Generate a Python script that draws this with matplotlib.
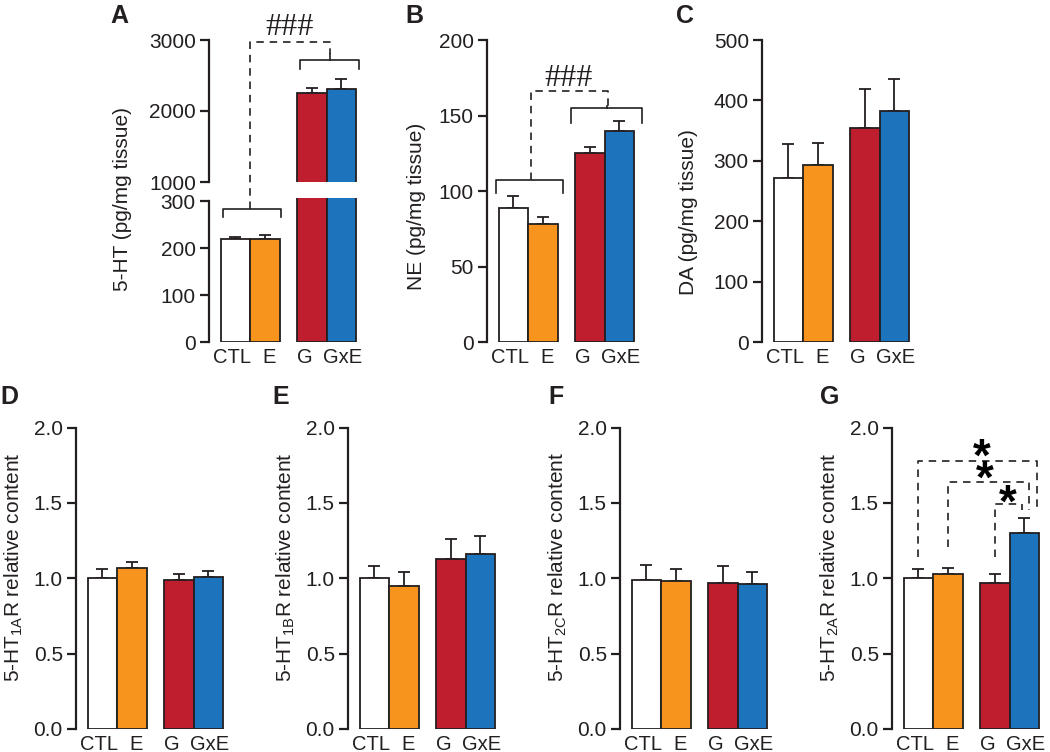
import numpy as np
import matplotlib
matplotlib.use('Agg')
import matplotlib.pyplot as plt
from matplotlib.ticker import FormatStrFormatter

plt.rcParams['font.family'] = ['Liberation Sans', 'DejaVu Sans']
plt.rcParams['mathtext.fontset'] = 'custom'
plt.rcParams['mathtext.rm'] = 'Liberation Sans'
plt.rcParams['mathtext.it'] = 'Liberation Sans:italic'
plt.rcParams['mathtext.bf'] = 'Liberation Sans:bold'

# groups and colours
groups = ['CTL', 'E', 'G', 'GxE']
colors = ['white', '#F7941D', '#BE1E2D', '#1C75BC']
xpos = [0, 1, 2.6, 3.6]
label_shift = [-0.12, 0.13, -0.23, 0.05]
INK = '#231F20'

# monoamines (pg/mg tissue): mean and SEM
ht_mean = [220, 220, 2258, 2306]
ht_err = [4, 7, 70, 140]
ne_mean = [89, 78, 125.4, 139.5]
ne_err = [8, 5, 4, 7]
da_mean = [272, 294, 354, 383]
da_err = [56, 36, 65, 52]

# receptor relative content
r1a_mean = [1.00, 1.07, 0.99, 1.01]
r1a_err = [0.06, 0.04, 0.04, 0.04]
r1b_mean = [1.00, 0.95, 1.13, 1.16]
r1b_err = [0.08, 0.09, 0.13, 0.12]
r2c_mean = [0.99, 0.98, 0.97, 0.96]
r2c_err = [0.095, 0.08, 0.11, 0.08]
r2a_mean = [1.00, 1.03, 0.97, 1.30]
r2a_err = [0.06, 0.04, 0.06, 0.10]

W, H = 1050, 752
fig = plt.figure(figsize=(W / 100, H / 100), dpi=100)


def add_ax(left, top, bottom, width=150):
    return fig.add_axes([left / W, 1 - bottom / H, width / W, (bottom - top) / H])


def style(ax, ticks, fmt='%d', xlabels=True):
    for s in ['top', 'right', 'bottom']:
        ax.spines[s].set_visible(False)
    ax.spines['left'].set_linewidth(1.6)
    ax.spines['left'].set_color(INK)
    ax.spines['left'].set_bounds(ticks[0], ticks[-1])
    ax.set_yticks(ticks)
    ax.yaxis.set_major_formatter(FormatStrFormatter(fmt))
    ax.tick_params(axis='y', length=6.5, width=1.6, labelsize=15, pad=3, colors=INK)
    ax.set_xlim(-0.9, 4.2)
    ax.patch.set_alpha(0)
    if xlabels:
        ax.set_xticks([x + s for x, s in zip(xpos, label_shift)])
        ax.set_xticklabels(groups)
        ax.tick_params(axis='x', length=0, labelsize=14.5, pad=4, colors=INK)
    else:
        ax.set_xticks([])


def bars(ax, mean, err):
    ax.bar(xpos, mean, width=1, color=colors, edgecolor=INK, linewidth=1.3, zorder=2)
    ax.errorbar(xpos, mean, yerr=[np.zeros(len(err)), err], fmt='none', ecolor=INK,
                elinewidth=1.3, capsize=4, capthick=1.3, zorder=1)


def bracket(ax, x0, x1, y, leg, nub=0):
    ax.plot([x0, x0, x1, x1], [y - leg, y, y, y - leg], color=INK, lw=1.2, clip_on=False)
    if nub:
        ax.plot([(x0 + x1) / 2] * 2, [y, y + nub], color=INK, lw=1.2, clip_on=False)


def dashed(ax, xs, ys):
    ax.plot(xs, ys, color=INK, lw=1.2, ls=(0, (4.5, 3.5)), clip_on=False)


def hashes(ax, x, y):
    ax.text(x, y, '###', ha='center', va='bottom', fontsize=23, color=INK,
            family=['Liberation Serif', 'DejaVu Serif'], clip_on=False)


# ---- A: 5-HT with broken axis ----
ax_lo = add_ax(209, 198.2, 342.3)
ax_up = add_ax(209, 40, 182)
for ax in (ax_lo, ax_up):
    bars(ax, ht_mean, ht_err)
ax_lo.set_ylim(0, 306)
ax_up.set_ylim(1000, 3000)
style(ax_lo, [0, 100, 200, 300])
style(ax_up, [1000, 2000, 3000], xlabels=False)

bracket(ax_lo, -0.43, 1.55, 284, 17)
bracket(ax_up, 2.2, 4.2, 2718, 130, nub=85)


def lo_to_up(y):
    disp = ax_lo.transData.transform((0, y))
    return ax_up.transData.inverted().transform(disp)[1]


dashed(ax_up, [0.5, 0.5, 3.2, 3.2], [lo_to_up(284), 2975, 2975, 2803])
hashes(ax_up, 1.85, 2975)

# ---- B: NE ----
ax_b = add_ax(487, 40, 342.3)
bars(ax_b, ne_mean, ne_err)
ax_b.set_ylim(0, 200)
style(ax_b, [0, 50, 100, 150, 200])
bracket(ax_b, -0.6, 1.7, 107.6, 8.8)
bracket(ax_b, 1.95, 4.38, 155, 9.8, nub=1.5)
dashed(ax_b, [0.6, 0.6, 3.2, 3.2], [107.6, 166, 166, 156.5])
hashes(ax_b, 1.88, 165)

# ---- C: DA ----
ax_c = add_ax(762, 40, 342.3)
bars(ax_c, da_mean, da_err)
ax_c.set_ylim(0, 500)
style(ax_c, [0, 100, 200, 300, 400, 500])

# ---- D-G: receptors ----
rec = [(76, r1a_mean, r1a_err, '1A'), (348, r1b_mean, r1b_err, '1B'),
       (620, r2c_mean, r2c_err, '2C'), (892, r2a_mean, r2a_err, '2A')]
rec_axes = []
for left, m, e, sub in rec:
    ax = add_ax(left, 427.5, 729)
    bars(ax, m, e)
    ax.set_ylim(0, 2.0)
    style(ax, [0.0, 0.5, 1.0, 1.5, 2.0], fmt='%.1f')
    fig.text((left - 62) / W, 1 - 567 / H,
             r'5-HT$_{\mathregular{' + sub + r'}}$R relative content',
             rotation=90, ha='center', va='center', fontsize=15, color=INK)
    rec_axes.append(ax)

ax_g = rec_axes[3]
# comparisons with GxE: (bar index, start y, top y, end x)
comps = [(0, 1.143, 1.78, 4.03), (1, 1.21, 1.636, 3.75), (2, 1.143, 1.49, 3.52)]
for i, y0, ytop, xend in comps:
    dashed(ax_g, [xpos[i], xpos[i], xend, xend], [y0, ytop, ytop, 1.45])
for sx, sy in [(2.14, 1.79), (2.25, 1.65), (3.05, 1.49)]:
    ax_g.text(sx, sy, '*', ha='center', va='center', fontsize=33, fontweight='bold',
              color='black', clip_on=False)

# ---- y labels top row ----
for cx, cy, lab in [(123, 199, '5-HT (pg/mg tissue)'), (417, 206, 'NE (pg/mg tissue)'),
                    (689, 212, 'DA (pg/mg tissue)')]:
    fig.text(cx / W, 1 - cy / H, lab, rotation=90, ha='center', va='center',
             fontsize=15, color=INK)

# ---- panel letters ----
for lx, ly, letter in [(110, 4, 'A'), (405, 4, 'B'), (676, 4, 'C'),
                       (0, 385, 'D'), (272, 385, 'E'), (548, 385, 'F'), (820, 385, 'G')]:
    fig.text(lx / W, 1 - ly / H, letter, ha='left', va='top', fontsize=18,
             fontweight='bold', color=INK)

fig.savefig('out.png', dpi=100)
